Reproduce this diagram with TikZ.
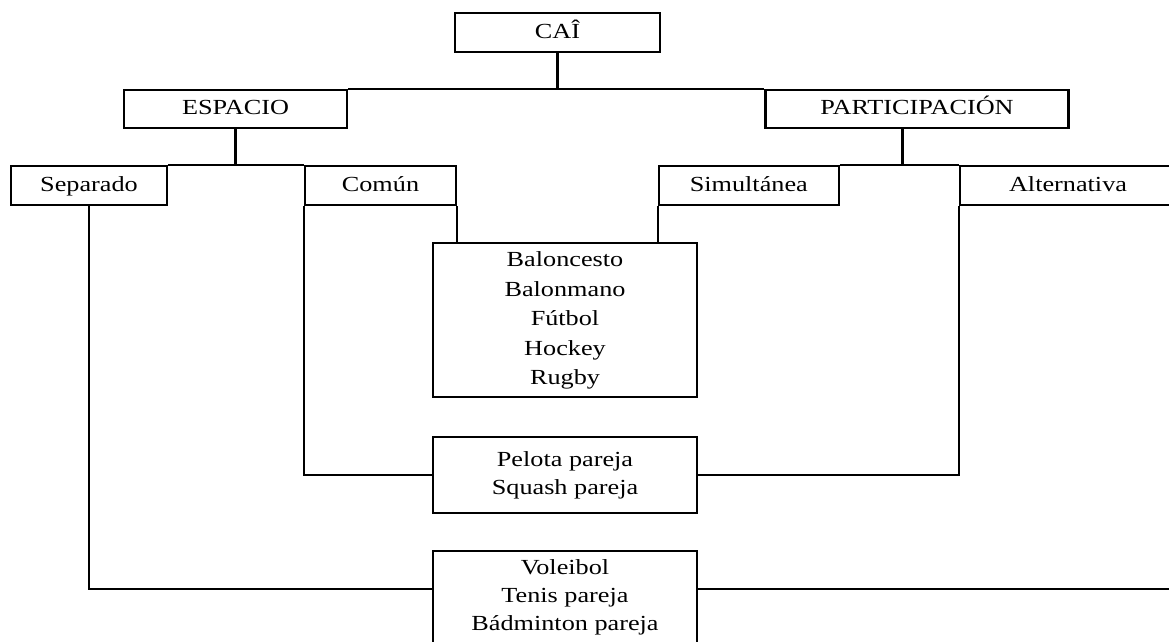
\documentclass[tikz,border=0pt]{standalone}
\usepackage{fontspec}
\setmainfont{Liberation Serif}
\usetikzlibrary{calc}
% widened text block of centred lines; optional argument raises it
\newcommand{\wtext}[2][0pt]{\raisebox{#1}{\scalebox{1.22}[1]{\begin{tabular}{@{}c@{}}#2\end{tabular}}}}
\begin{document}
\begin{tikzpicture}[x=1pt,y=-1pt,
  every node/.style={font=\fontsize{21.5}{29.5}\selectfont},
  box/.style={draw, line width=2.1pt, rectangle, inner sep=0pt},
  link/.style={line width=2.1pt}]
\useasboundingbox (0,0) rectangle (1169,641);

% root
\node[box, minimum width=205pt, minimum height=39pt] (cai) at (557.5,32.5) {\wtext{CAÎ}};

% second level
\node[box, minimum width=223pt, minimum height=38pt] (esp) at (235.5,109) {\wtext[-2.5pt]{ESPACIO}};
\node[box, minimum width=303pt, minimum height=38pt] (par) at (917,109) {\wtext[-2.5pt]{PARTICIPACIÓN}};

% third level
\node[box, minimum width=156pt, minimum height=39pt] (sep) at (89,185.5) {\wtext{Separado}};
\node[box, minimum width=151pt, minimum height=39pt] (com) at (380.5,185.5) {\wtext{Común}};
\node[box, minimum width=180pt, minimum height=39pt] (sim) at (748.8,185.5) {\wtext{Simultánea}};
\node[box, minimum width=216pt, minimum height=39pt] (alt) at (1068,185.5) {\wtext{Alternativa}};

% groups of sports
\node[box, minimum width=264pt, minimum height=154pt] (bal) at (565,320)
  {\wtext{Baloncesto\\Balonmano\\Fútbol\\Hockey\\Rugby}};
\node[box, minimum width=264pt, minimum height=76pt] (pel) at (565,475)
  {\fontsize{21.5}{28.3}\selectfont\wtext[4pt]{Pelota pareja\\Squash pareja}};
\node[box, minimum width=264pt, minimum height=92pt] (vol) at (565,597)
  {\fontsize{21.5}{28.3}\selectfont\wtext{Voleibol\\Tenis pareja\\Bádminton pareja}};

% junctions
\coordinate (rootj) at (cai.south |- esp.north);
\coordinate (pj) at (902.5,166);
\coordinate (volj) at (433,589);
\coordinate (volje) at (697,589);
\coordinate (rend) at (1175,589);

% connectors
\draw[link] (cai.south) -- (rootj);
\draw[link] (esp.north east) -- (par.north west);
\draw[link] (esp.south) -- (esp.south |- sep.north);
\draw[link] (sep.north east) -- (com.north west);
\draw[link] (pj |- par.south) -- (pj);
\draw[link] (sim.north east) -- (alt.north west);
\draw[link] (com.south east) -- (com.south east |- bal.north);
\draw[link] (sim.south west) -- (sim.south west |- bal.north);
\draw[link] (com.south west) |- (pel.west);
\draw[link] (alt.south west) |- (pel.east);
\draw[link] (sep.south) |- (volj -| vol.west);
\draw[link] (volje -| vol.east) -- (rend);
\end{tikzpicture}
\end{document}
